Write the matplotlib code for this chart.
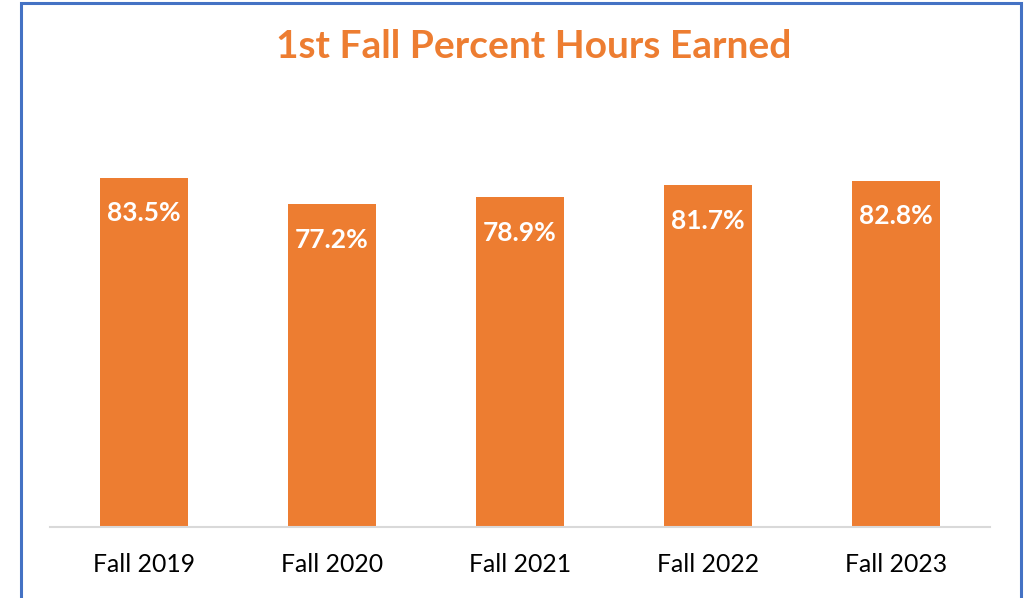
import matplotlib
matplotlib.use("Agg")
import matplotlib.pyplot as plt
from matplotlib.patches import Rectangle

categories = ["Fall 2019", "Fall 2020", "Fall 2021", "Fall 2022", "Fall 2023"]
values = [83.5, 77.2, 78.9, 81.7, 82.8]
title = "1st Fall Percent Hours Earned"

ORANGE = "#ED7D31"
W, H = 1030, 598
fig = plt.figure(figsize=(W / 100, H / 100), dpi=100)
plt.rcParams['font.family'] = ['Lato', 'DejaVu Sans']

ax = fig.add_axes([50 / W, 71 / H, 940 / W, 418 / H])
x = list(range(len(categories)))
bars = ax.bar(x, values, width=0.468, color=ORANGE, zorder=2)
ax.set_xlim(-0.5, len(categories) - 0.5)
ax.set_ylim(0, 100)
ax.set_xticks(x)
ax.set_xticklabels(categories, fontsize=17.8, color="#000000")
ax.tick_params(axis='x', length=0, pad=19)
ax.set_yticks([])
for s in ["top", "left", "right"]:
    ax.spines[s].set_visible(False)
ax.spines["bottom"].set_color("#D9D9D9")
ax.spines["bottom"].set_linewidth(1.5)

for xi, v in zip(x, values):
    ax.annotate(f"{v:.1f}%", xy=(xi, v), xytext=(0, -25.5), textcoords="offset points",
                ha="center", va="center", color="white", fontsize=19, fontweight="bold")

fig.text(534 / W, 1 - 47 / H, title, ha="center", va="center", color=ORANGE,
         fontsize=28, fontweight="bold")

fig.patches.append(Rectangle((21 / W, -0.02), 1000 / W, 1 - 3 / H + 0.02,
                             transform=fig.transFigure, fill=False,
                             edgecolor="#4472C4", linewidth=2.2))

fig.savefig("out.png", dpi=100)
